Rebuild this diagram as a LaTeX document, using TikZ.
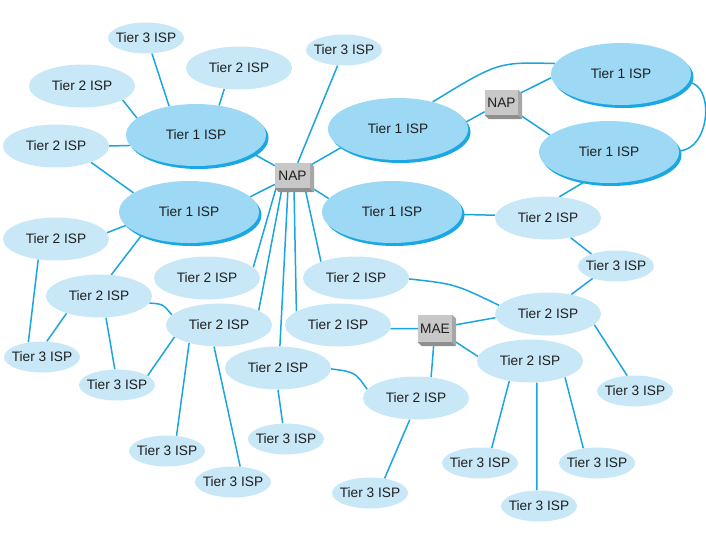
\documentclass[tikz,border=0pt]{standalone}
\usepackage{fontspec}
\setmainfont{Liberation Sans}
\usetikzlibrary{shapes.geometric,shadows}
\definecolor{lnkc}{HTML}{1BA5DE}
\definecolor{t1fill}{HTML}{9DD8F4}
\definecolor{t1dark}{HTML}{1AA8E4}
\definecolor{t2fill}{HTML}{C8E8F8}
\definecolor{apfront}{HTML}{C8C8C8}
\definecolor{apside}{HTML}{A6A6A6}
\definecolor{apbot}{HTML}{8F8F8F}
\pgfdeclarelayer{bg}
\pgfsetlayers{bg,main}
\tikzset{
  isp/.style={ellipse, inner sep=0pt, font=\fontsize{13.7}{16}\selectfont, text=black!88},
  tone/.style={isp, fill=t1fill, minimum width=140pt, minimum height=62pt,
    drop shadow={shadow xshift=2.5pt, shadow yshift=-3pt, fill=t1dark, opacity=1}},
  ttwo/.style={isp, fill=t2fill, minimum width=106pt, minimum height=43pt},
  tthree/.style={isp, fill=t2fill, minimum width=76pt, minimum height=31pt, inner xsep=-4pt},
  apbox/.style={rectangle, fill=apfront, minimum width=35pt, minimum height=25pt,
    inner sep=0pt, font=\fontsize{13.7}{16}\selectfont, text=black!88},
  link/.style={draw=lnkc, line width=1.5pt}
}
\begin{document}
\begin{tikzpicture}[x=1pt,y=-1pt]
\useasboundingbox (0,0) rectangle (706,544);
% Tier 1
\node[tone] (a1) at (196,135) {Tier 1 ISP};
\node[tone] (a2) at (189,212) {Tier 1 ISP};
\node[tone] (a3) at (398,129) {Tier 1 ISP};
\node[tone] (a4) at (392,212) {Tier 1 ISP};
\node[tone] (a5) at (621,74) {Tier 1 ISP};
\node[tone] (a6) at (609,152) {Tier 1 ISP};
% Tier 2
\node[ttwo] (b1) at (239,68) {Tier 2 ISP};
\node[ttwo] (b2) at (82,86) {Tier 2 ISP};
\node[ttwo] (b3) at (56,146) {Tier 2 ISP};
\node[ttwo] (b4) at (56,239) {Tier 2 ISP};
\node[ttwo] (b5) at (99,296) {Tier 2 ISP};
\node[ttwo] (b6) at (207,278) {Tier 2 ISP};
\node[ttwo] (b7) at (356,278) {Tier 2 ISP};
\node[ttwo] (b8) at (219,325) {Tier 2 ISP};
\node[ttwo] (b9) at (338,325) {Tier 2 ISP};
\node[ttwo] (b10) at (548,218) {Tier 2 ISP};
\node[ttwo] (b11) at (548,314) {Tier 2 ISP};
\node[ttwo] (b12) at (530,361) {Tier 2 ISP};
\node[ttwo] (b13) at (278,368) {Tier 2 ISP};
\node[ttwo] (b14) at (416,398) {Tier 2 ISP};
% Tier 3
\node[tthree] (c1) at (146,38) {Tier 3 ISP};
\node[tthree] (c2) at (344,50) {Tier 3 ISP};
\node[tthree] (c3) at (616,266) {Tier 3 ISP};
\node[tthree] (c4) at (42,357) {Tier 3 ISP};
\node[tthree] (c5) at (117,385) {Tier 3 ISP};
\node[tthree] (c6) at (167,451) {Tier 3 ISP};
\node[tthree] (c7) at (233,482) {Tier 3 ISP};
\node[tthree] (c8) at (286,439) {Tier 3 ISP};
\node[tthree] (c9) at (370,493) {Tier 3 ISP};
\node[tthree] (c10) at (480,463) {Tier 3 ISP};
\node[tthree] (c11) at (539,506) {Tier 3 ISP};
\node[tthree] (c12) at (597,463) {Tier 3 ISP};
\node[tthree] (c13) at (635,391) {Tier 3 ISP};
% access points
\node[apbox] (nap1) at (292.5,175.5) {NAP};
\node[apbox, minimum width=33pt] (nap2) at (501.5,102.5) {NAP};
\node[apbox, minimum width=34pt, minimum height=27pt] (mae) at (435,328.5) {MAE};
\foreach \n in {nap1,nap2,mae} {
  \fill[apside] (\n.north east) -- ([shift={(4,4)}]\n.north east)
    -- ([shift={(4,4)}]\n.south east) -- (\n.south east) -- cycle;
  \fill[apbot] (\n.south west) -- (\n.south east)
    -- ([shift={(4,4)}]\n.south east) -- ([shift={(4,4)}]\n.south west) -- cycle;
}
\begin{pgfonlayer}{bg}
\draw[link] (b2.-19) -- (a1.164);
\draw[link] (c1.-69) -- (a1.133);
\draw[link] (b1.-125) -- (a1.52);
\draw[link] (b3.0) -- (a1.-171);
\draw[link] (a1.-18) -- (nap1);
\draw[link] (b3.-25) -- (a2.161);
\draw[link] (b4.7) -- (a2.-168);
\draw[link] (a2.-154) -- (b5.60);
\draw[link] (a2.14) -- (nap1);
\draw[link] (c2) -- (nap1);
\draw[link] (a3.-162) -- (nap1);
\draw[link] (a4.168) -- (nap1);
\draw[link] ([xshift=-16.5pt]nap1.south) -- (b6.13);
\draw[link] ([xshift=-10.5pt]nap1.south) -- (b8.20);
\draw[link] ([xshift=-4.5pt]nap1.south) -- (b13.85);
\draw[link] ([xshift=1.5pt]nap1.south) -- (b9.162);
\draw[link] ([xshift=12.5pt]nap1.south) -- (b7.155);
\draw[link] (a4.-2) -- (b10.177);
\draw[link] (b10.62) -- (a6.-129);
\draw[link] (b10.-41) -- (c3.154);
\draw[link] (a3.6) -- (nap2);
\draw[link] (nap2) -- (a5.-177);
\draw[link] (nap2) -- (a6.164);
\draw[link] (a3.38) .. controls (498,62) .. (a5.171);
\draw[link] (a5.-7) .. controls (715,85) and (710,150) .. (a6.1);
\draw[link] (b5.-8) .. controls (163,304) .. (b8.168);
\draw[link] (b4.-131) -- (c4.133);
\draw[link] (b5.-152) -- (c4.73);
\draw[link] (b5.-72) -- (c5.98);
\draw[link] (b8.-165) -- (c5.17);
\draw[link] (b8.-149) -- (c6.58);
\draw[link] (b8.-103) -- (c7.65);
\draw[link] (b13.-90) -- (c8.102);
\draw[link] (b13.-1) .. controls (355,372) .. (b14.170);
\draw[link] (b14.-106) -- (c9.45);
\draw[link] (b14.54) -- (mae);
\draw[link] (b9.-4) -- (mae);
\draw[link] (mae) -- (b11.-176);
\draw[link] (mae) -- (b12.175);
\draw[link] (b7.-1) .. controls (455,284) .. (b11.170);
\draw[link] (b11.40) -- (c3.-152);
\draw[link] (b11.-13) -- (c13.117);
\draw[link] (b12.-136) -- (c10.52);
\draw[link] (b12.-72) -- (c11.98);
\draw[link] (b12.-25) -- (c12.133);
\end{pgfonlayer}
\end{tikzpicture}
\end{document}
